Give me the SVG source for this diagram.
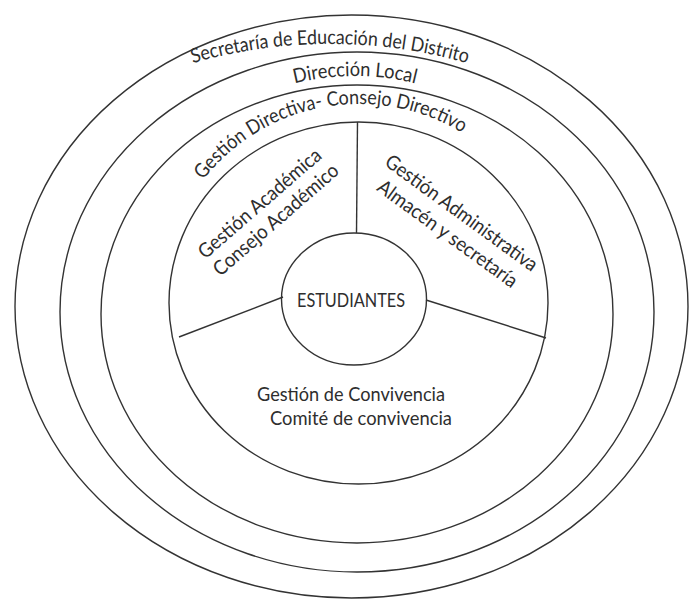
<svg xmlns="http://www.w3.org/2000/svg" xmlns:xlink="http://www.w3.org/1999/xlink" width="695" height="600" viewBox="0 0 695 600">
  <style>
    .ring { fill: none; stroke: #333333; stroke-width: 1.4; }
    .sep { fill: none; stroke: #333333; stroke-width: 1.4; }
    .lbl { font-family: Lato, "Open Sans", "Liberation Sans", sans-serif; font-size: 20px; fill: #2e2e2e; }
  </style>
  <defs>
    <path id="arc-secretaria" d="M 130 85.7 A 500 500 0 0 1 530 85.7"/>
    <path id="arc-direccion" d="M 205 126 A 250 250 0 0 1 505 126"/>
    <path id="arc-directiva" d="M 172.6 235.3 A 198 198 0 0 1 510 173.9"/>
  </defs>
  <rect width="695" height="600" fill="#ffffff"/>

  <g id="secretaria">
    <ellipse class="ring" cx="351.5" cy="306.5" rx="336.5" ry="291.5"/>
    <text class="lbl"><textPath xlink:href="#arc-secretaria" href="#arc-secretaria" startOffset="50%" text-anchor="middle" textLength="278" lengthAdjust="spacingAndGlyphs">Secretaría de Educación del Distrito</textPath></text>
  </g>

  <g id="direccion-local">
    <ellipse class="ring" cx="357" cy="312" rx="297" ry="260"/>
    <text class="lbl"><textPath xlink:href="#arc-direccion" href="#arc-direccion" startOffset="50%" text-anchor="middle" textLength="122" lengthAdjust="spacingAndGlyphs">Dirección Local</textPath></text>
  </g>

  <g id="gestion-directiva">
    <ellipse class="ring" cx="357" cy="314" rx="256" ry="229"/>
    <text class="lbl"><textPath xlink:href="#arc-directiva" href="#arc-directiva" startOffset="50%" text-anchor="middle" textLength="288" lengthAdjust="spacingAndGlyphs">Gestión Directiva- Consejo Directivo</textPath></text>
  </g>

  <g id="gestiones">
    <ellipse class="ring" cx="358.5" cy="303" rx="189.5" ry="181"/>
  </g>

  <g id="connectors">
    <line class="sep" x1="357.5" y1="122" x2="356.5" y2="233"/>
    <line class="sep" x1="179" y1="337" x2="283" y2="297"/>
    <line class="sep" x1="426" y1="300" x2="546" y2="338"/>
  </g>

  <g id="gestion-academica">
    <g transform="translate(264,208.5) rotate(-41)">
      <text class="lbl" x="0" y="0" text-anchor="middle" textLength="156" lengthAdjust="spacingAndGlyphs">Gestión Académica</text>
      <text class="lbl" x="1.5" y="23" text-anchor="middle" textLength="159" lengthAdjust="spacingAndGlyphs">Consejo Académico</text>
    </g>
  </g>

  <g id="gestion-administrativa">
    <g transform="translate(457.5,218.4) rotate(36)">
      <text class="lbl" x="0" y="0" text-anchor="middle" textLength="183" lengthAdjust="spacingAndGlyphs">Gestión Administrativa</text>
      <text class="lbl" x="1" y="25" text-anchor="middle" textLength="168" lengthAdjust="spacingAndGlyphs">Almacén y secretaría</text>
    </g>
  </g>

  <g id="gestion-convivencia">
    <text class="lbl" x="351" y="400.5" text-anchor="middle" textLength="188" lengthAdjust="spacingAndGlyphs">Gestión de Convivencia</text>
    <text class="lbl" x="361" y="424.5" text-anchor="middle" textLength="182" lengthAdjust="spacingAndGlyphs">Comité de convivencia</text>
  </g>

  <g id="estudiantes">
    <ellipse class="ring" cx="354" cy="299" rx="72.5" ry="66"/>
    <text class="lbl" x="351" y="306.5" text-anchor="middle" textLength="108" lengthAdjust="spacingAndGlyphs">ESTUDIANTES</text>
  </g>
</svg>
